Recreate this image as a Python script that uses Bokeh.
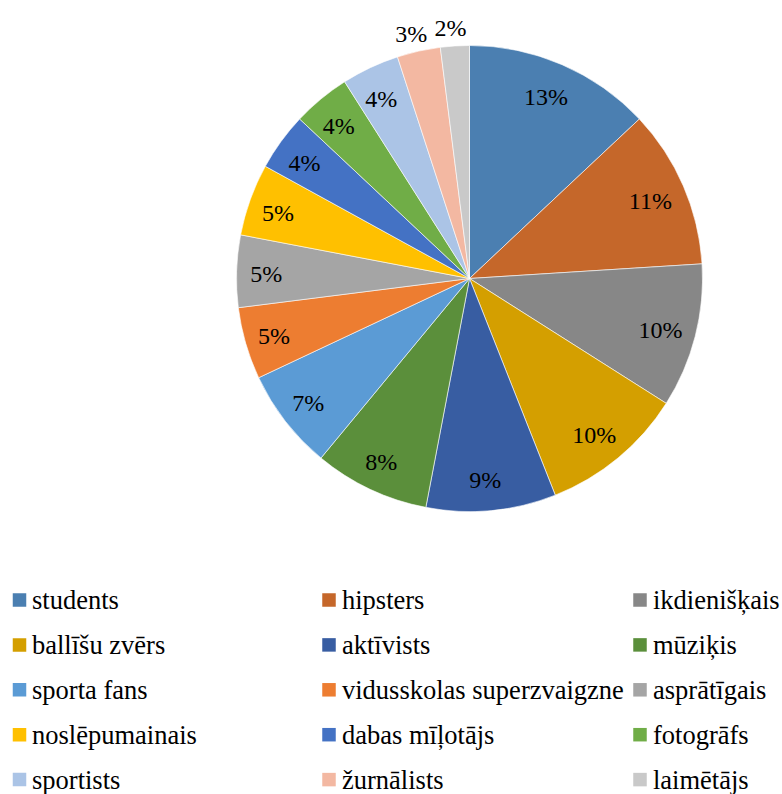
import math
from bokeh.plotting import figure
from bokeh.models import Range1d, ColumnDataSource
from bokeh.core.properties import value
from bokeh.embed import file_html
from bokeh.resources import INLINE

# ---- data ----
categories = ["students", "hipsters", "ikdienišķais", "ballīšu zvērs", "aktīvists",
              "mūziķis", "sporta fans", "vidusskolas superzvaigzne", "asprātīgais",
              "noslēpumainais", "dabas mīļotājs", "fotogrāfs", "sportists",
              "žurnālists", "laimētājs"]
percents = [13, 11, 10, 10, 9, 8, 7, 5, 5, 5, 4, 4, 4, 3, 2]
colors = ["#4B7FB1", "#C5672A", "#878787", "#D49F00", "#385DA2", "#5B8F3B",
          "#5B9BD5", "#ED7D31", "#A5A5A5", "#FFC000", "#4472C4", "#70AD47",
          "#ABC4E6", "#F3B8A2", "#C9C9C9"]

W, H = 782, 794
FONT = "Liberation Serif"

p = figure(width=W, height=H, output_backend="svg", toolbar_location=None,
           x_range=Range1d(0, W), y_range=Range1d(0, H), min_border=0)
p.axis.visible = False
p.grid.visible = False
p.outline_line_color = None
p.background_fill_color = "white"
p.border_fill_color = "white"

def X(px):
    return px

def Y(py):
    return H - py

cx, cy, R = X(469), Y(278), 233

total = float(sum(percents))
starts, ends, mids = [], [], []
cum = 0.0
for v in percents:
    a0 = math.pi / 2 - 2 * math.pi * cum / total
    cum += v
    a1 = math.pi / 2 - 2 * math.pi * cum / total
    starts.append(a0)
    ends.append(a1)
    mids.append((a0 + a1) / 2)

src = ColumnDataSource(dict(start=starts, end=ends, color=colors))
p.wedge(x=cx, y=cy, radius=R, start_angle="start", end_angle="end",
        direction="clock", fill_color="color", line_color="white",
        line_width=0.6, source=src)

# percentage labels
lx, ly, lt = [], [], []
for v, m in zip(percents, mids):
    r = R * 0.86 if v > 3 else R + 20
    lx.append(cx + r * math.cos(m) - 3)
    ly.append(cy + r * math.sin(m) - 2)
    lt.append(f"{v}%")
p.text(x=lx, y=ly, text=lt, text_font=value(FONT), text_font_size="24px",
       text_color="black", text_align="center", text_baseline="middle")

# legend (3 columns, row-major)
col_sq = [19, 328.5, 639.5]
col_tx = [31.5, 341.5, 652.5]
row0, rstep = 599.5, 44.9
sx, sy, tx, ty = [], [], [], []
for i, name in enumerate(categories):
    c, rr = i % 3, i // 3
    yc = row0 + rr * rstep
    sx.append(X(col_sq[c]))
    sy.append(Y(yc))
    tx.append(X(col_tx[c]))
    ty.append(Y(yc))
p.rect(x=sx, y=sy, width=13.5, height=13.5, fill_color=colors, line_color=None)
p.text(x=tx, y=ty, text=categories, text_font=value(FONT), text_font_size="26.5px",
       text_color="black", text_align="left", text_baseline="middle")

open("out.html", "w").write(file_html(p, INLINE))
